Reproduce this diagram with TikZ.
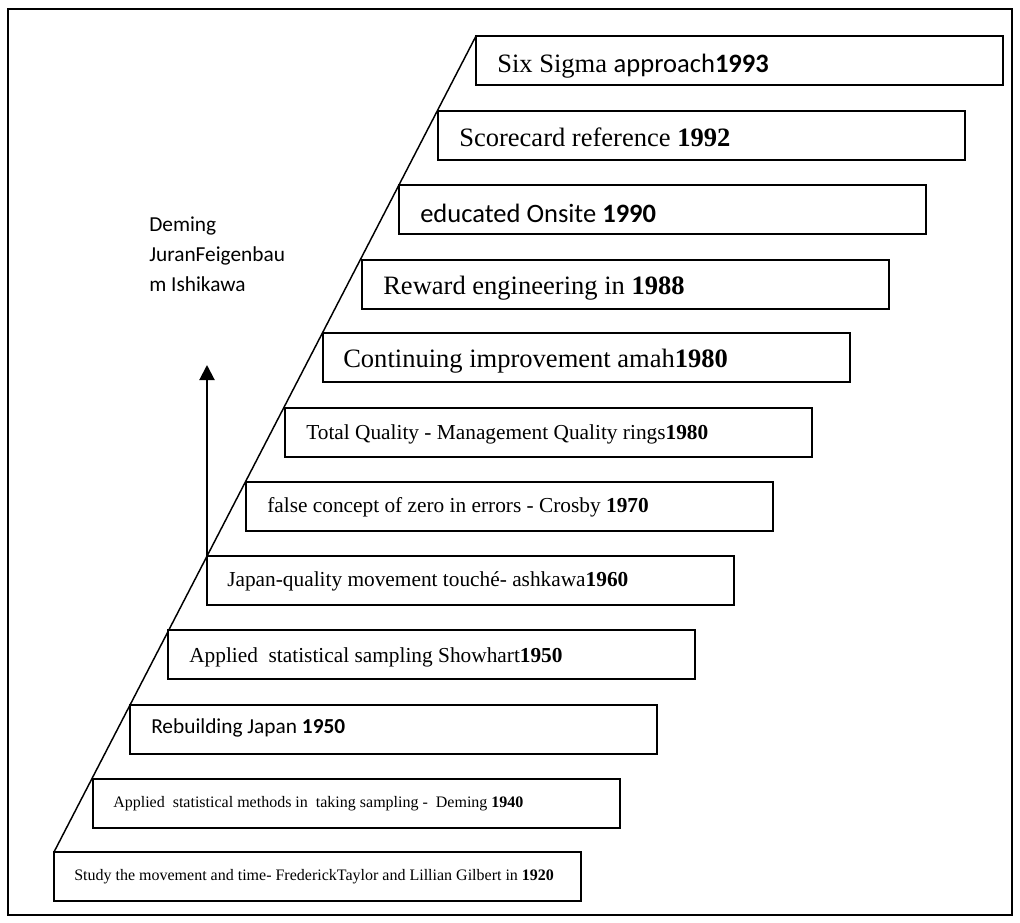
\documentclass[tikz,border=0pt]{standalone}
\usepackage{fontspec}
\setmainfont{Liberation Serif}
\newfontfamily\calfont{Carlito}
\usetikzlibrary{arrows.meta}
\begin{document}
\begin{tikzpicture}[x=0.75pt,y=-0.75pt,
  frame/.style={draw,line width=1.3pt},
  stepbox/.style={draw,line width=1.3pt,minimum width=395.25pt,minimum height=36.75pt,inner sep=0pt,outer sep=0pt,anchor=north west},
  lbl/.style={anchor=base west,inner sep=0pt},
  big/.style={font=\fontsize{19.9}{24}\selectfont},
  mid/.style={font=\fontsize{16}{19}\selectfont},
  small/.style={font=\fontsize{12}{14}\selectfont},
  diag/.style={line width=1.1pt},
  uparrow/.style={line width=1.5pt,-{Triangle[width=11.25pt,length=11.25pt]}}
]
\useasboundingbox (0,0) rectangle (1020,923);
\draw[frame] (8,9) rectangle (1012,915);

\node[stepbox] (b1) at (476,36) {};
\node[stepbox] (b2) at (438,111) {};
\node[stepbox] (b3) at (399,185) {};
\node[stepbox] (b4) at (362,260) {};
\node[stepbox] (b5) at (323,333) {};
\node[stepbox] (b6) at (285,408) {};
\node[stepbox] (b7) at (246,482) {};
\node[stepbox] (b8) at (207,556) {};
\node[stepbox] (b9) at (168,630) {};
\node[stepbox] (b10) at (130,705) {};
\node[stepbox] (b11) at (93,779) {};
\node[stepbox] (b12) at (54,852) {};

\draw[diag] (b12.north west) -- (b1.north west);

\node[lbl,big] (t1) at (497,73) {Six Sigma {\calfont approach\textbf{1993}}};
\node[lbl,big] (t2) at (459,147) {Scorecard reference \textbf{1992}};
\node[lbl,big] (t3) at (420,223) {\calfont educated Onsite \textbf{1990}};
\node[lbl,big] (t4) at (383,295) {Reward engineering in \textbf{1988}};
\node[lbl,big] (t5) at (343,368) {Continuing improvement amah\textbf{1980}};
\node[lbl,mid] (t6) at (306,439) {Total Quality - Management Quality rings\textbf{1980}};
\node[lbl,mid] (t7) at (267,512) {false concept of zero in errors - Crosby \textbf{1970}};
\node[lbl,mid] (t8) at (227,586) {Japan-quality movement touché- ashkawa\textbf{1960}};
\node[lbl,mid] (t9) at (189,662) {Applied\ \ statistical sampling Showhart\textbf{1950}};
\node[lbl,mid] (t10) at (151,733) {\calfont Rebuilding Japan \textbf{1950}};
\node[lbl,small] (t11) at (113,807) {Applied\ \ statistical methods in\ \ taking sampling -\ \ Deming \textbf{1940}};
\node[lbl,small] (t12) at (74,880) {Study the movement and time- FrederickTaylor and Lillian Gilbert in \textbf{1920}};

\node[anchor=north west,inner sep=0pt,align=left,font=\calfont\fontsize{16}{22.3}\selectfont] (gurus) at (149,217) {Deming\\JuranFeigenbau\\m Ishikawa};

\coordinate (atip) at (207,365);
\draw[uparrow] (b8.north west) -- (atip);
\end{tikzpicture}
\end{document}
